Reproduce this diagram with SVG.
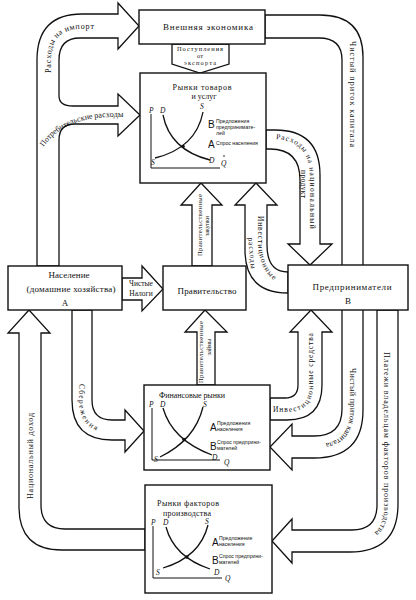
<svg xmlns="http://www.w3.org/2000/svg" width="416" height="600" viewBox="0 0 416 600">
<style>
.band{fill:#fff;stroke:#111;stroke-width:1.3;stroke-linejoin:miter}
.box{fill:#fff;stroke:#111;stroke-width:1.4}
text{font-family:"Liberation Serif","DejaVu Serif",serif;fill:#111}
.c{text-anchor:middle}
.n{font-size:9px}
.a{font-size:8px}
.s{font-size:7.5px}
.e{font-size:6.4px}
.v{font-size:6.5px}
.ax{fill:none;stroke:#111;stroke-width:1}
.cv{fill:none;stroke:#111;stroke-width:1.3}
.it{font-style:italic;font-size:7.5px}
.big{font-family:"Liberation Sans",Arial,sans-serif;font-size:10px}
.sm{font-family:"Liberation Sans",Arial,sans-serif;font-size:5.2px}
</style>
<defs>
<path id="pImp" d="M48,90 L48,60 Q48,26 82,26 L120,26"/>
<path id="pCons" d="M40,147 Q60,115 110,114 L138,114"/>
<path id="pKapB" d="M353,352 L353,410 Q353,447 316,447 L290,447"/>
<path id="pPlat" d="M387,338 L387,508 Q387,541 354,541 L300,541"/>
<path id="pInvS" d="M271,409 L287,409 Q310,409 310,386 L310,324"/>
<path id="pSber" d="M82,360 L82,400 Q82,430 112,430 L125,430"/>
<path id="pInvR" d="M261,208 L261,242 Q262,276 288,284"/>
<path id="pNac" d="M272,136 Q313,136 313,178 L313,245"/>
</defs>
<rect width="416" height="600" fill="#fff"/>
<g id="connectors">
<path class="band" d="M37,266 L37,60 Q37,14 82,14 L118,14 L118,3 L139,26 L118,49 L118,38 L80,38 Q59,38 59,60 L59,96 Q59,106 73,106 L118,106 L118,94 L140,115 L118,136 L118,124 L75,124 Q59,124 59,140 L59,266 Z"/>
<path class="band" d="M265,15 L320,15 Q363,15 363,57 L363,410 Q363,458 314,458 L292,458 L292,470 L270,447 L292,424 L292,436 L314,436 Q342,436 342,409 L342,60 Q342,38 319,38 L265,38 Z"/>
<path class="band" d="M377,310 L377,505 Q377,530 352,530 L292,530 L292,519 L272,541 L292,563 L292,552 L350,552 Q398,552 398,504 L398,310 Z"/>
<path class="band" d="M122,278 L142,278 L142,266 L163,289 L142,311 L142,300 L122,300 Z"/>
<path class="band" d="M192,266 L192,205 L181,205 L201,183 L222,205 L212,205 L212,266 Z"/>
<path class="band" d="M288,293 Q245,293 245,250 L245,205 L235,205 L256,183 L277,205 L267,205 L267,245 Q267,272 288,272 Z"/>
<path class="band" d="M266,130 L275,130 Q320,130 320,175 L320,244 L332,244 L310,265 L288,244 L300,244 L300,180 Q300,149 270,149 L266,149 Z"/>
<path class="band" d="M197,385 L197,332 L185,332 L205,310 L227,332 L215,332 L215,385 Z"/>
<path class="band" d="M270,398 L285,398 Q298,398 298,385 L298,332 L290,332 L311,310 L332,332 L322,332 L322,385 Q322,420 287,420 L270,420 Z"/>
<path class="band" d="M72,310 L72,400 Q72,440 112,440 L125,440 L125,452 L144,431 L125,410 L125,420 L112,420 Q92,420 92,400 L92,310 Z"/>
<path class="band" d="M19,333 L8,333 L29,310 L50,333 L41,333 L41,505 Q41,529 65,529 L145,529 L145,550 L62,550 Q19,550 19,507 Z"/>
<path class="band" d="M172,44 L229,44 L229,64 L200,73 L172,64 Z"/>
</g>
<g id="connector-labels">
<text class="a" dominant-baseline="central"><textPath href="#pImp" startOffset="17" textLength="80">Расходы на импорт</textPath></text>
<text class="a" dominant-baseline="central"><textPath href="#pCons" startOffset="2" textLength="92">Потребительские расходы</textPath></text>
<text class="a c" dominant-baseline="central" transform="translate(352,94) rotate(90)" textLength="106">Чистый приток капитала</text>
<text class="a" dominant-baseline="central"><textPath href="#pKapB" startOffset="16" textLength="92">Чистый приток капитала</textPath></text>
<text class="a" dominant-baseline="central"><textPath href="#pPlat" startOffset="14" textLength="186">Платежи владельцам факторов производства</textPath></text>
<text class="s" dominant-baseline="central"><textPath href="#pInvS" startOffset="2" textLength="104">Инвестиционные средства</textPath></text>
<text class="s" dominant-baseline="central"><textPath href="#pSber" startOffset="24" textLength="50">Сбережения</textPath></text>
<text class="s" dominant-baseline="central"><textPath href="#pInvR" startOffset="8" textLength="66">Инвестиционные</textPath></text>
<text class="s c" dominant-baseline="central" transform="translate(252,253) rotate(85)" textLength="31">расходы</text>
<text class="s" dominant-baseline="central"><textPath href="#pNac" startOffset="4" textLength="114">Расходы на национальный</textPath></text>
<text class="s c" dominant-baseline="central" transform="translate(303,184) rotate(90)" textLength="28">продукт</text>
<text class="a c" dominant-baseline="central" transform="translate(30,456) rotate(-90)" textLength="86">Национальный доход</text>
<text class="v c" dominant-baseline="central" transform="translate(199,225) rotate(-90)" textLength="62">Правительственные</text>
<text class="v c" dominant-baseline="central" transform="translate(206,226) rotate(-90)" textLength="20">закупки</text>
<text class="v c" dominant-baseline="central" transform="translate(200,352) rotate(-90)" textLength="62">Правительственные</text>
<text class="v c" dominant-baseline="central" transform="translate(208,347) rotate(-90)" textLength="17">займы</text>
<text class="s c" x="141" y="286">Чистые</text>
<text class="s c" x="141" y="296">Налоги</text>
<text class="e c" x="200" y="51" textLength="46">Поступления</text>
<text class="e c" x="200" y="58">от</text>
<text class="e c" x="200" y="65" textLength="32">экспорта</text>
</g>
<g id="vneshnyaya-ekonomika">
<rect class="box" x="139" y="10" width="126" height="34"/>
<text class="n c" x="208" y="30" textLength="90">Внешняя экономика</text>
</g>
<g id="rynki-tovarov">
<rect class="box" x="140" y="73" width="126" height="110"/>
<text class="a c" x="202" y="90" textLength="59">Рынки товаров</text>
<text class="a c" x="204" y="99">и услуг</text>
<path class="ax" d="M151,114 L151,168 L220,168"/>
<path class="cv" d="M163,115 Q170,150 210,160"/>
<path class="cv" d="M203,112 Q196,148 155,158"/>
<circle cx="183" cy="146.5" r="1.8" fill="#111"/>
<text class="it" x="149" y="113">P</text>
<text class="it" x="160" y="113">D</text>
<text class="it" x="200" y="109">S</text>
<text class="it" x="151" y="165">S</text>
<text class="it" x="209" y="163">D</text>
<text class="it" x="221" y="166">Q</text>
<circle cx="224" cy="156" r="0.8" fill="#111"/>
<text class="big" x="208" y="128">B</text>
<text class="sm" x="216" y="123">Предложения</text>
<text class="sm" x="216" y="129">предпринимате-</text>
<text class="sm" x="216" y="135">лей</text>
<text class="big" x="208" y="148">A</text>
<text class="sm" x="216" y="145">Спрос населения</text>
</g>
<g id="naselenie">
<rect class="box" x="8" y="266" width="114" height="44"/>
<text class="n c" x="69" y="278" textLength="41">Население</text>
<text class="n c" x="71" y="292" textLength="89">(домашние хозяйства)</text>
<text class="n c" x="65" y="306">А</text>
</g>
<g id="pravitelstvo">
<rect class="box" x="163" y="266" width="83" height="44"/>
<text class="n c" x="207" y="294" textLength="59">Правительство</text>
</g>
<g id="predprinimateli">
<rect class="box" x="288" y="265" width="120" height="45"/>
<text class="n c" x="352" y="290" textLength="79">Предприниматели</text>
<text class="n c" x="348" y="304">В</text>
</g>
<g id="finansovye-rynki">
<rect class="box" x="144" y="385" width="126" height="85"/>
<text class="a c" x="192" y="398" textLength="66">Финансовые рынки</text>
<path class="ax" d="M152,408 L152,460 L220,460"/>
<path class="cv" d="M163,408 Q172,440 212,455"/>
<path class="cv" d="M203,407 Q195,440 160,457"/>
<circle cx="184" cy="439.6" r="1.8" fill="#111"/>
<text class="it" x="149" y="407">P</text>
<text class="it" x="160" y="407">D</text>
<text class="it" x="203" y="407">S</text>
<text class="it" x="154" y="462">S</text>
<text class="it" x="212" y="460">D</text>
<text class="it" x="224" y="465">Q</text>
<text class="big" x="210" y="431">A</text>
<text class="sm" x="217" y="425">Предложения</text>
<text class="sm" x="217" y="431">населения</text>
<text class="big" x="210" y="450">B</text>
<text class="sm" x="217" y="444">Спрос предприни-</text>
<text class="sm" x="217" y="450">мателей</text>
</g>
<g id="rynki-faktorov">
<rect class="box" x="145" y="485" width="127" height="108"/>
<text class="a c" x="188" y="506" textLength="62">Рынки факторов</text>
<text class="a c" x="187" y="516" textLength="48">производства</text>
<path class="ax" d="M153,526 L153,578 L222,578"/>
<path class="cv" d="M166,527 Q174,557 210,569"/>
<path class="cv" d="M208,525 Q200,557 163,568"/>
<circle cx="186.8" cy="557" r="1.8" fill="#111"/>
<text class="it" x="151" y="525">P</text>
<text class="it" x="163" y="525">D</text>
<text class="it" x="205" y="524">S</text>
<text class="it" x="156" y="575">S</text>
<text class="it" x="214" y="575">D</text>
<text class="it" x="225" y="581">Q</text>
<text class="big" x="212" y="546">A</text>
<text class="sm" x="219" y="540">Предложение</text>
<text class="sm" x="219" y="546">населения</text>
<text class="big" x="212" y="564">B</text>
<text class="sm" x="219" y="558">Спрос предприни-</text>
<text class="sm" x="219" y="564">мателей</text>
</g>
</svg>
